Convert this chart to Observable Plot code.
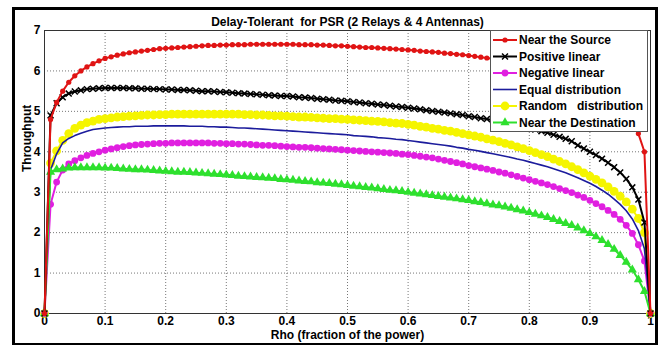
<!DOCTYPE html>
<html><head><meta charset="utf-8">
<script src="https://cdn.jsdelivr.net/npm/d3@7"></script>
<script src="https://cdn.jsdelivr.net/npm/@observablehq/plot@0.6"></script>
<style>
body{margin:0;background:#fff;}
#wrap{position:relative;width:662px;height:345px;overflow:hidden;}
#border{position:absolute;left:12px;top:7px;width:640px;height:333px;border:3px solid #000;pointer-events:none;}
#legend{position:absolute;left:490px;top:30px;}
svg text{white-space:pre;}
</style></head><body><div id="wrap"></div>
<script>
const titleText = "Delay-Tolerant  for PSR (2 Relays & 4 Antennas)";
const xLabel = "Rho (fraction of the power)";
const yLabel = "Throughput";
const xTicks = [0,0.1,0.2,0.3,0.4,0.5,0.6,0.7,0.8,0.9,1];
const xTickLabels = ["0","0.1","0.2","0.3","0.4","0.5","0.6","0.7","0.8","0.9","1"];
const yTicks = [0,1,2,3,4,5,6,7];
const yTickLabels = ["0","1","2","3","4","5","6","7"];
const seriesNames = ["Near the Source","Positive linear","Negative linear","Equal distribution","Random   distribution","Near the Destination"];

const rho = [0,0.01,0.02,0.03,0.04,0.05,0.06,0.07,0.08,0.09,
0.10,0.11,0.12,0.13,0.14,0.15,0.16,0.17,0.18,0.19,
0.20,0.21,0.22,0.23,0.24,0.25,0.26,0.27,0.28,0.29,
0.30,0.31,0.32,0.33,0.34,0.35,0.36,0.37,0.38,0.39,
0.40,0.41,0.42,0.43,0.44,0.45,0.46,0.47,0.48,0.49,
0.50,0.51,0.52,0.53,0.54,0.55,0.56,0.57,0.58,0.59,
0.60,0.61,0.62,0.63,0.64,0.65,0.66,0.67,0.68,0.69,
0.70,0.71,0.72,0.73,0.74,0.75,0.76,0.77,0.78,0.79,
0.80,0.81,0.82,0.83,0.84,0.85,0.86,0.87,0.88,0.89,
0.90,0.91,0.92,0.93,0.94,0.95,0.96,0.97,0.98,0.99,1.00];

const nearSource = [0,4.80,5.22,5.50,5.72,5.88,6.00,6.10,6.18,6.25,
6.31,6.35,6.39,6.42,6.45,6.47,6.49,6.51,6.53,6.55,
6.56,6.57,6.58,6.59,6.60,6.61,6.62,6.63,6.63,6.64,
6.64,6.65,6.65,6.65,6.66,6.66,6.66,6.66,6.66,6.66,
6.66,6.66,6.65,6.65,6.65,6.64,6.64,6.63,6.62,6.62,
6.61,6.60,6.59,6.58,6.58,6.57,6.56,6.55,6.54,6.53,
6.52,6.51,6.49,6.48,6.47,6.46,6.44,6.43,6.41,6.40,
6.38,6.36,6.34,6.32,6.30,6.28,6.26,6.24,6.21,6.19,
6.16,6.13,6.10,6.07,6.04,6.00,5.96,5.92,5.87,5.82,
5.77,5.71,5.64,5.56,5.46,5.34,5.18,4.90,4.45,4.00,0];

const positiveLinear = [0,4.90,5.20,5.35,5.44,5.49,5.52,5.55,5.56,5.57,
5.58,5.58,5.58,5.58,5.57,5.57,5.56,5.56,5.55,5.55,
5.54,5.54,5.53,5.53,5.52,5.51,5.50,5.50,5.49,5.48,
5.47,5.46,5.45,5.44,5.43,5.42,5.41,5.40,5.39,5.38,
5.38,5.37,5.35,5.34,5.33,5.31,5.30,5.29,5.27,5.26,
5.25,5.23,5.22,5.20,5.19,5.17,5.16,5.14,5.12,5.11,
5.09,5.07,5.05,5.03,5.01,4.99,4.97,4.95,4.93,4.91,
4.88,4.86,4.83,4.81,4.78,4.75,4.72,4.69,4.66,4.62,
4.59,4.55,4.51,4.47,4.42,4.37,4.32,4.26,4.16,4.08,
4.00,3.92,3.83,3.73,3.62,3.49,3.33,3.12,2.82,2.25,0];

const negativeLinear = [0,2.70,3.25,3.55,3.70,3.78,3.85,3.91,3.96,4.00,
4.04,4.07,4.10,4.13,4.15,4.17,4.18,4.19,4.20,4.21,
4.21,4.22,4.22,4.22,4.22,4.22,4.22,4.22,4.21,4.21,
4.20,4.20,4.19,4.19,4.18,4.17,4.16,4.16,4.15,4.14,
4.13,4.12,4.11,4.11,4.10,4.09,4.08,4.07,4.06,4.05,
4.04,4.03,4.02,4.01,4.00,3.99,3.98,3.97,3.96,3.94,
3.93,3.91,3.89,3.87,3.85,3.82,3.79,3.76,3.73,3.70,
3.66,3.63,3.60,3.57,3.54,3.50,3.47,3.43,3.39,3.35,
3.31,3.27,3.23,3.19,3.14,3.09,3.04,2.99,2.93,2.87,
2.80,2.72,2.64,2.55,2.45,2.33,2.18,1.98,1.70,1.30,0];

const equalDistribution = [0,3.55,3.95,4.22,4.33,4.40,4.46,4.51,4.55,4.57,
4.59,4.60,4.61,4.62,4.62,4.63,4.63,4.63,4.64,4.64,
4.64,4.64,4.64,4.64,4.63,4.63,4.63,4.62,4.62,4.61,
4.61,4.60,4.59,4.59,4.58,4.57,4.56,4.55,4.54,4.53,
4.52,4.51,4.50,4.49,4.48,4.47,4.46,4.45,4.44,4.43,
4.42,4.40,4.39,4.38,4.37,4.35,4.34,4.33,4.31,4.30,
4.28,4.26,4.24,4.22,4.20,4.18,4.16,4.14,4.11,4.09,
4.06,4.04,4.01,3.98,3.95,3.92,3.89,3.86,3.82,3.79,
3.75,3.71,3.67,3.63,3.58,3.53,3.48,3.42,3.36,3.29,
3.22,3.14,3.05,2.95,2.83,2.70,2.54,2.34,2.05,1.60,0];

const randomDistribution = [0,3.72,4.02,4.28,4.45,4.58,4.66,4.72,4.76,4.80,
4.82,4.84,4.86,4.87,4.88,4.89,4.90,4.91,4.91,4.92,
4.92,4.93,4.93,4.93,4.93,4.93,4.93,4.93,4.93,4.93,
4.93,4.93,4.93,4.92,4.92,4.91,4.91,4.90,4.89,4.89,
4.88,4.87,4.86,4.86,4.85,4.84,4.83,4.82,4.82,4.81,
4.80,4.79,4.78,4.77,4.76,4.75,4.74,4.72,4.71,4.70,
4.68,4.66,4.63,4.61,4.58,4.56,4.53,4.51,4.48,4.45,
4.42,4.39,4.36,4.32,4.29,4.25,4.21,4.17,4.12,4.08,
4.03,3.98,3.93,3.88,3.82,3.76,3.70,3.63,3.56,3.48,
3.40,3.32,3.23,3.13,3.02,2.90,2.76,2.58,2.35,2.00,0];

const nearDestination = [0,3.50,3.56,3.58,3.60,3.61,3.61,3.61,3.61,3.61,
3.60,3.60,3.59,3.58,3.57,3.56,3.56,3.55,3.54,3.53,
3.52,3.51,3.50,3.50,3.49,3.48,3.47,3.46,3.45,3.44,
3.43,3.42,3.40,3.39,3.38,3.37,3.36,3.35,3.34,3.32,
3.31,3.30,3.28,3.27,3.26,3.24,3.23,3.22,3.20,3.19,
3.17,3.15,3.14,3.12,3.11,3.09,3.07,3.05,3.04,3.02,
3.00,2.98,2.96,2.94,2.92,2.90,2.88,2.86,2.84,2.82,
2.80,2.77,2.75,2.72,2.69,2.67,2.64,2.61,2.57,2.54,
2.50,2.46,2.42,2.38,2.33,2.28,2.23,2.18,2.12,2.05,
1.98,1.90,1.81,1.71,1.59,1.44,1.27,1.08,0.84,0.55,0];

// styles (per legend order)
const styles = [
  {values: nearSource, color:"#e01414", lw:2, symbol:"circle", r:2.6, fill:true},
  {values: positiveLinear, color:"#000000", lw:2, symbol:"times", r:2.8, fill:false},
  {values: negativeLinear, color:"#e01fe0", lw:2, symbol:"circle", r:3.4, fill:true},
  {values: equalDistribution, color:"#1c1c9c", lw:1.6, symbol:null},
  {values: randomDistribution, color:"#f5f500", lw:2, symbol:"circle", r:4.4, fill:true},
  {values: nearDestination, color:"#2ee02e", lw:2, symbol:"triangle", r:3.4, fill:true}
];
const drawOrder = [4,2,3,5,1,0];

const marks = [
  Plot.gridX(xTicks, {stroke:"#777", strokeOpacity:1, strokeDasharray:"1,2"}),
  Plot.gridY(yTicks, {stroke:"#777", strokeOpacity:1, strokeDasharray:"1,2"}),
  Plot.frame({stroke:"#333", strokeWidth:1}),
  Plot.axisX(xTicks, {anchor:"bottom", tickSize:0, tickPadding:3, tickFormat:d=>xTickLabels[xTicks.indexOf(d)], label:null, fontWeight:"bold"}),
  Plot.axisY(yTicks, {anchor:"left", tickSize:0, tickPadding:4, tickFormat:d=>yTickLabels[yTicks.indexOf(d)], label:null, fontWeight:"bold"}),
];
for (const k of drawOrder) {
  const s = styles[k];
  marks.push(Plot.line(rho, {x:d=>d, y:(d,i)=>s.values[i], stroke:s.color, strokeWidth:s.lw}));
  if (s.symbol) {
    if (s.fill) marks.push(Plot.dot(rho, {x:d=>d, y:(d,i)=>s.values[i], symbol:s.symbol, r:s.r, fill:s.color, stroke:"none"}));
    else marks.push(Plot.dot(rho, {x:d=>d, y:(d,i)=>s.values[i], symbol:s.symbol, r:s.r, stroke:s.color, strokeWidth:1.5}));
  }
}
marks.push(
  Plot.text([titleText], {frameAnchor:"top", dy:-13, fontSize:12, fontWeight:"bold"}),
  Plot.text([xLabel], {frameAnchor:"bottom", dy:25, fontSize:12, fontWeight:"bold"}),
  Plot.text([yLabel], {frameAnchor:"left", dx:-17, rotate:-90, fontSize:12, fontWeight:"bold"})
);

const chart = Plot.plot({
  width:662, height:345,
  marginTop:30, marginLeft:44, marginRight:12, marginBottom:32,
  x:{domain:[0,1]}, y:{domain:[0,7]},
  style:{fontFamily:"'Liberation Sans', Arial, sans-serif", fontSize:"12px", color:"#000", background:"#fff", overflow:"visible"},
  marks
});
const wrap = document.getElementById("wrap");
wrap.appendChild(chart);
const border = document.createElement("div"); border.id = "border"; wrap.appendChild(border);

// legend
const rowH = 16.5, lw = 158, lh = 102;
const leg = d3.create("svg").attr("id","legend").attr("width",lw).attr("height",lh)
  .style("font-family","'Liberation Sans', Arial, sans-serif").style("font-size","12px").style("font-weight","bold");
leg.append("rect").attr("x",0.5).attr("y",0.5).attr("width",lw-1).attr("height",lh-1).attr("fill","#fff").attr("stroke","#555");
seriesNames.forEach((name,i)=>{
  const s = styles[i];
  const cy = 10 + i*rowH;
  const g = leg.append("g").attr("transform",`translate(0,${cy})`);
  g.append("line").attr("x1",3).attr("x2",27).attr("y1",0).attr("y2",0).attr("stroke",s.color).attr("stroke-width",s.lw);
  if (s.symbol) {
    const sym = {circle:d3.symbolCircle, times:d3.symbolTimes, triangle:d3.symbolTriangle}[s.symbol];
    const size = Math.PI*s.r*s.r;
    const p = g.append("path").attr("transform","translate(15,0)").attr("d", d3.symbol(sym, size)());
    if (s.fill) p.attr("fill",s.color); else p.attr("fill","none").attr("stroke",s.color).attr("stroke-width",1.5);
  }
  g.append("text").attr("x",29).attr("y",0).attr("dy","0.36em").attr("fill","#000").text(name);
});
wrap.appendChild(leg.node());
</script>
</body></html>
